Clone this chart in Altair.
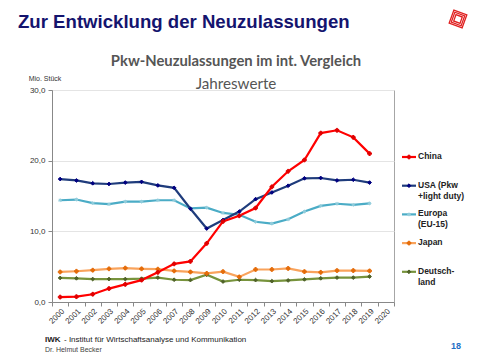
import altair as alt
import pandas as pd

years = [str(y) for y in range(2000, 2021)]
data_years = years[:20]

series_names = ["China", "USA", "Europa", "Japan", "Deutschland"]
legend_labels = ["China", "USA (Pkw\n+light duty)", "Europa\n(EU-15)", "Japan", "Deutsch-\nland"]

china = [0.7, 0.75, 1.1, 1.9, 2.5, 3.1, 4.2, 5.4, 5.75, 8.3, 11.4, 12.2, 13.3, 16.3, 18.5, 20.1, 23.9, 24.3, 23.3, 21.0]
usa = [17.4, 17.2, 16.8, 16.7, 16.9, 17.0, 16.5, 16.15, 13.2, 10.4, 11.6, 12.8, 14.55, 15.5, 16.45, 17.5, 17.55, 17.2, 17.3, 16.9]
europa = [14.4, 14.5, 14.0, 13.85, 14.2, 14.2, 14.4, 14.4, 13.25, 13.35, 12.6, 12.35, 11.35, 11.1, 11.7, 12.8, 13.6, 13.9, 13.75, 13.95]
japan = [4.25, 4.35, 4.5, 4.7, 4.8, 4.7, 4.65, 4.4, 4.25, 4.05, 4.3, 3.55, 4.6, 4.6, 4.75, 4.3, 4.2, 4.45, 4.45, 4.4]
deutschland = [3.4, 3.35, 3.25, 3.25, 3.25, 3.3, 3.45, 3.15, 3.1, 3.85, 2.9, 3.15, 3.1, 2.95, 3.05, 3.2, 3.35, 3.45, 3.45, 3.6]

line_colors = ["#ff0000", "#1f3c7c", "#4bacc6", "#f9a35c", "#77933c"]
marker_colors = ["#e00000", "#000080", "#92cddc", "#e46c0a", "#4f6228"]
marker_shapes = ["cross", "diamond",
                 "M-1,0L1,0M0,-1L0,1M-0.7,-0.7L0.7,0.7M-0.7,0.7L0.7,-0.7",
                 "cross", "diamond"]

values = {"China": china, "USA": usa, "Europa": europa, "Japan": japan, "Deutschland": deutschland}
draw_order = ["Deutschland", "Japan", "Europa", "USA", "China"]
rows = []
for s in draw_order:
    for y, v in zip(data_years, values[s]):
        rows.append({"year": y, "series": s, "value": v})
df = pd.DataFrame(rows)

color_scale = alt.Scale(domain=series_names, range=line_colors)
marker_scale = alt.Scale(domain=series_names, range=marker_colors)
shape_scale = alt.Scale(domain=series_names, range=marker_shapes)

x_enc = alt.X("year:O", bandPosition=0.5,
              scale=alt.Scale(type="band", domain=years, paddingInner=0, paddingOuter=0),
              axis=alt.Axis(title=None, labelAngle=-45, labelFontSize=8, labelColor="#333333",
                            labelFont="Liberation Sans", tickBand="extent", tickSize=4,
                            tickColor="#888888", domainColor="#888888", grid=False, labelPadding=1))
y_enc = alt.Y("value:Q",
              scale=alt.Scale(domain=[0, 30]),
              axis=alt.Axis(title=None, values=[0, 5, 10, 15, 20, 25, 30], labelFontSize=8,
                            labelColor="#333333", labelFont="Liberation Sans",
                            labelExpr="replace(format(datum.value, '.1f'), '.', ',')",
                            tickSize=4, tickColor="#888888", domainColor="#888888",
                            gridColor="#e4e4e4", labelPadding=3))

base = alt.Chart(df)
lines = base.mark_line(strokeWidth=2.2).encode(
    x=x_enc, y=y_enc,
    color=alt.Color("series:N", scale=color_scale, legend=None),
)
points = base.mark_point(filled=True, strokeWidth=1, opacity=1, size=14).encode(
    x=x_enc, y="value:Q",
    fill=alt.Fill("series:N", scale=marker_scale, legend=None),
    stroke=alt.Stroke("series:N", scale=marker_scale, legend=None),
    shape=alt.Shape("series:N", scale=shape_scale, legend=None),
)
main = alt.layer(lines, points)

# legend
leg_df = pd.DataFrame({"series": series_names, "label": legend_labels, "idx": list(range(len(series_names)))})
leg = alt.Chart(leg_df).transform_calculate(ly="67 + 28.7 * datum.idx", ty="datum.ly - 5")
leg_lines = leg.mark_rule(strokeWidth=2.2).encode(
    x=alt.value(350), x2=alt.value(364),
    y=alt.Y("ly:Q", scale=None, axis=None),
    color=alt.Color("series:N", scale=color_scale, legend=None),
)
leg_pts = leg.mark_point(filled=True, strokeWidth=1, opacity=1, size=14).encode(
    x=alt.value(357),
    y=alt.Y("ly:Q", scale=None, axis=None),
    fill=alt.Fill("series:N", scale=marker_scale, legend=None),
    stroke=alt.Stroke("series:N", scale=marker_scale, legend=None),
    shape=alt.Shape("series:N", scale=shape_scale, legend=None),
)
leg_text = leg.mark_text(lineBreak="\n", align="left", baseline="top", fontWeight="bold",
                         fontSize=8.5, lineHeight=11, font="Liberation Sans", color="#222222").encode(
    x=alt.value(366),
    y=alt.Y("ty:Q", scale=None, axis=None),
    text="label:N",
)

one = pd.DataFrame({"k": [0]})


def txt(text, x, y, **kw):
    return alt.Chart(one).mark_text(text=text, **kw).encode(x=alt.value(x), y=alt.value(y))


title_main = txt("Zur Entwicklung der Neuzulassungen", -34, -62, align="left", baseline="alphabetic",
                 font="Liberation Sans", fontSize=18.6, fontWeight="bold", color="#14146e")
title_chart = txt("Pkw-Neuzulassungen im int. Vergleich", 184, -28, align="center", baseline="middle",
                  font="Lato", fontSize=14.8, fontWeight="bold", color="#555555")
subtitle = txt("Jahreswerte", 184, -6.5, align="center", baseline="middle",
               font="Lato", fontSize=15.2, color="#555555")
unit = txt("Mio. Stück", -7, -11, align="center", baseline="middle",
           font="Liberation Sans", fontSize=7, color="#333333")
foot1 = txt("IWK", -7, 250, align="left", baseline="middle",
            font="Liberation Sans", fontSize=8, fontWeight="bold", color="#222222")
foot2 = txt("-  Institut  für  Wirtschaftsanalyse  und  Kommunikation", 12, 250, align="left", baseline="middle",
            font="Liberation Sans", fontSize=8, color="#222222")
foot3 = txt("Dr. Helmut Becker", -7, 259.5, align="left", baseline="middle",
            font="Liberation Sans", fontSize=7, color="#444444")
page = txt("18", 404, 256, align="center", baseline="middle",
           font="Liberation Sans", fontSize=9, fontWeight="bold", color="#1f6fc5")

logo_layers = []
for sz in [190, 110, 45]:
    logo_layers.append(
        alt.Chart(one).mark_point(shape="square", filled=False, color="#e02020", strokeWidth=1.3,
                                  angle=20, size=sz, opacity=1)
        .encode(x=alt.value(406), y=alt.value(-71))
    )

chart = alt.layer(
    main, leg_lines, leg_pts, leg_text,
    title_main, title_chart, subtitle, unit, foot1, foot2, foot3, page, *logo_layers
).resolve_scale(y="independent").properties(
    width=342, height=212,
    autosize=alt.AutoSizeParams(type="none"),
    padding={"left": 44, "top": 82, "right": 78, "bottom": 50},
    background="white",
).configure_view(stroke="#a6a6a6")

chart.save("out.html", embed_options={"renderer": "svg", "actions": False})
